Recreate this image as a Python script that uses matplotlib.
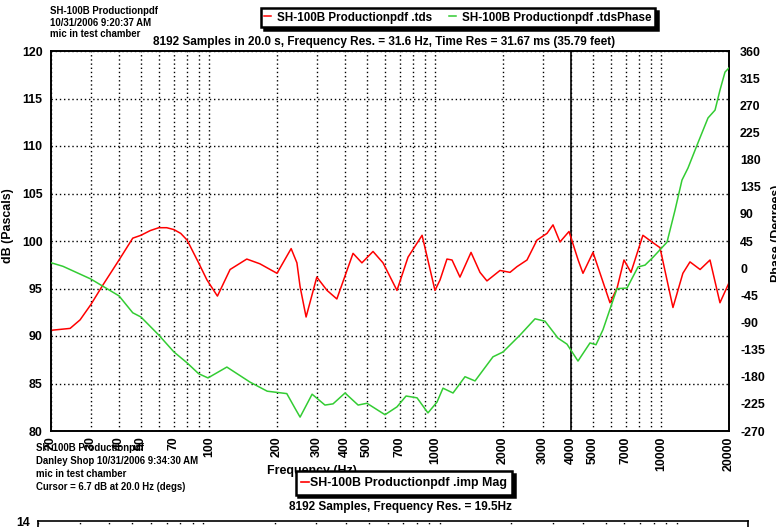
import matplotlib
matplotlib.use("Agg")
import matplotlib.pyplot as plt
from matplotlib import font_manager as fm
from matplotlib.lines import Line2D
from matplotlib.ticker import NullLocator, FixedLocator

# ---------------- data ----------------
mag_freq = [20, 24.3, 26.9, 30, 34, 40, 46, 50, 55, 60, 65, 70, 75, 80, 90, 98, 109, 124,
            147, 168, 200, 231, 245, 253, 269, 300, 333, 368, 434, 475, 532, 589, 679,
            760, 877, 1000, 1053, 1130, 1190, 1290, 1444, 1582, 1698, 1940, 2148, 2306,
            2554, 2828, 3131, 3329, 3574, 3918, 4300, 4518, 5004, 5948, 6388, 6860, 7368,
            8318, 9120, 9900, 11300, 12500, 13440, 14900, 16480, 18240, 20000]
mag_db = [90.6, 90.8, 91.7, 93.3, 95.4, 98.0, 100.3, 100.6, 101.1, 101.4, 101.4, 101.2,
          100.8, 100.1, 97.7, 95.9, 94.2, 97.0, 98.1, 97.6, 96.6, 99.2, 97.7, 95.2, 92.0,
          96.2, 94.8, 93.9, 98.7, 97.7, 98.9, 97.7, 94.8, 98.3, 100.6, 94.8, 95.9, 98.1,
          98.0, 96.2, 98.8, 96.7, 95.8, 96.9, 96.7, 97.3, 98.0, 100.1, 100.8, 101.7, 99.9,
          101.0, 98.0, 96.6, 98.8, 93.5, 95.0, 98.0, 96.7, 100.6, 99.9, 99.3, 93.0, 96.6,
          97.8, 97.0, 98.0, 93.5, 95.6]

ph_freq = [20, 22.6, 30, 40, 46, 50, 60, 70, 80, 90, 99, 120, 152, 181, 221, 240, 253,
           286, 326, 354, 400, 457, 500, 601, 679, 745, 833, 931, 1021, 1085, 1202, 1358,
           1504, 1806, 2000, 2378, 2772, 3069, 3502, 3838, 4294, 4853, 5158, 5540, 6388,
           7076, 7914, 8500, 9222, 10634, 11538, 12388, 13170, 14586, 16148, 17348,
           18240, 19200, 20000]
ph_deg = [9, 3, -18, -46, -74, -81, -111, -139, -157, -175, -182, -164, -189, -204, -208,
          -232, -247, -209, -227, -225, -207, -227, -224, -243, -230, -212, -215, -240,
          -222, -199, -207, -180, -187, -147, -139, -111, -84, -88, -116, -126, -154,
          -124, -127, -102, -34, -33, 2, 5, 18, 43, 96, 146, 166, 208, 249, 262, 295,
          325, 332]

grid_freqs = [20, 30, 40, 50, 60, 70, 80, 90, 100, 200, 300, 400, 500, 600, 700, 800,
              900, 1000, 2000, 3000, 4000, 5000, 6000, 7000, 8000, 9000, 10000, 20000]
labeled_freqs = [20, 30, 40, 50, 70, 100, 200, 300, 400, 500, 700, 1000, 2000, 3000,
                 4000, 5000, 7000, 10000, 20000]
db_ticks = [80, 85, 90, 95, 100, 105, 110, 115, 120]
phase_ticks = [-270, -225, -180, -135, -90, -45, 0, 45, 90, 135, 180, 225, 270, 315, 360]
cursor_freq = 4000

# ---------------- fonts ----------------
def has_font(name):
    try:
        fm.findfont(fm.FontProperties(family=name), fallback_to_default=False)
        return True
    except Exception:
        return False

if has_font("Liberation Sans Narrow"):
    FONT = "Liberation Sans Narrow"
    S = 1.0
else:
    FONT = "Liberation Sans"
    S = 0.85
plt.rcParams["font.family"] = [FONT, "DejaVu Sans"]
plt.rcParams["font.weight"] = "bold"

W, H = 776, 527
fig = plt.figure(figsize=(W / 100, H / 100), dpi=100)
fig.patch.set_facecolor("white")

def fx(x):
    return x / W

def fy(y):
    return 1 - y / H

# main axes
L, R, T, B = 51, 729, 51, 431
ax = fig.add_axes([fx(L), fy(B), (R - L) / W, (B - T) / H])
ax.set_xscale("log")
ax.set_xlim(20, 20000)
ax.set_ylim(80, 120)
ax.xaxis.set_major_locator(FixedLocator(grid_freqs))
ax.xaxis.set_minor_locator(NullLocator())
ax.set_xticklabels([str(f) if f in labeled_freqs else "" for f in grid_freqs],
                   rotation=90, fontsize=10.5 * S, fontweight="bold")
ax.set_yticks(db_ticks)
ax.set_yticklabels([str(v) for v in db_ticks], fontsize=10.5 * S, fontweight="bold")
ax.tick_params(axis="both", length=0)
ax.tick_params(axis="x", pad=4)
ax.tick_params(axis="y", pad=6)
ax.grid(True, color="black", linestyle=(0, (1, 2)), linewidth=1.0)
for sp in ax.spines.values():
    sp.set_linewidth(1.2)
    sp.set_color("black")
ax.axvline(cursor_freq, color="black", linewidth=1.2, zorder=3)
red_line, = ax.plot(mag_freq, mag_db, color="#ff0000", linewidth=1.1, zorder=4)
ax.set_ylabel("dB (Pascals)", fontsize=10.5 * S, fontweight="bold")
ax.yaxis.set_label_coords((14 - L) / (R - L), (B - 226) / (B - T))

ax2 = ax.twinx()
ax2.set_ylim(-270, 360)
ax2.set_yticks(phase_ticks)
ax2.set_yticklabels([str(v) for v in phase_ticks], fontsize=10.5 * S, fontweight="bold")
ax2.tick_params(axis="y", length=0, pad=8)
ax2.xaxis.set_minor_locator(NullLocator())
green_line, = ax2.plot(ph_freq, ph_deg, color="#33cc33", linewidth=1.1, zorder=4)
ax2.set_ylabel("Phase (Degrees)", fontsize=10.5 * S, fontweight="bold", rotation=90)
ax2.yaxis.set_label_coords((771 - L) / (R - L), (B - 233) / (B - T))
for sp in ax2.spines.values():
    sp.set_linewidth(1.2)

# title & legend
fig.text(fx(384), fy(42), "8192 Samples in 20.0 s, Frequency Res. = 31.6 Hz, Time Res = 31.67 ms (35.79 feet)",
         ha="center", va="center", fontsize=10 * S, fontweight="bold")
leg = fig.legend([red_line, green_line],
                 ["SH-100B Productionpdf .tds", "SH-100B Productionpdf .tdsPhase"],
                 loc="center", bbox_to_anchor=(fx(458), fy(17.5)), ncol=2,
                 prop={"size": 9.8 * S, "weight": "bold"}, frameon=True, fancybox=False,
                 edgecolor="black", handlelength=0.6, handletextpad=0.5, columnspacing=1.5,
                 borderpad=0.3, borderaxespad=0,
                 shadow={"color": "black", "alpha": 1})
leg.get_frame().set_linewidth(1.8)

# annotation blocks
fs_small = 8.2 * S
for i, t in enumerate(["SH-100B Productionpdf", "10/31/2006 9:20:37 AM", "mic in test chamber"]):
    fig.text(fx(50), fy(11 + 11.5 * i), t, ha="left", va="center", fontsize=fs_small,
             fontweight="bold")
for i, t in enumerate(["SH-100B Productionpdf", "Danley Shop 10/31/2006 9:34:30 AM",
                       "mic in test chamber", "Cursor = 6.7 dB at 20.0 Hz (degs)"]):
    fig.text(fx(36), fy(448 + 13 * i), t, ha="left", va="center", fontsize=fs_small,
             fontweight="bold")

fig.text(fx(267), fy(471), "Frequency (Hz)", ha="left", va="center", fontsize=10.5 * S,
         fontweight="bold", zorder=1)

# second (mostly clipped) chart
L2, R2, T2 = 38, 748, 521
axb = fig.add_axes([fx(L2), fy(T2) - 0.5, (R2 - L2) / W, 0.5])
axb.set_xscale("log")
axb.set_xlim(20, 20000)
axb.set_ylim(0, 14)
axb.xaxis.set_major_locator(FixedLocator(grid_freqs))
axb.xaxis.set_minor_locator(NullLocator())
axb.set_xticklabels([])
axb.set_yticks([14])
axb.set_yticklabels(["14"], fontsize=10.5 * S, fontweight="bold")
axb.tick_params(axis="y", length=0, pad=6)
axb.tick_params(axis="x", direction="in", length=3)
axb.grid(True, axis="x", color="black", linestyle=(0, (1, 2)), linewidth=1.0)
for sp in axb.spines.values():
    sp.set_linewidth(1.2)

fig.text(fx(400), fy(507), "8192 Samples, Frequency Res. = 19.5Hz", ha="center", va="center",
         fontsize=10 * S, fontweight="bold")
imp_handle = Line2D([], [], color="#ff0000", linewidth=1.2)
leg2 = fig.legend([imp_handle], ["SH-100B Productionpdf .imp Mag"], loc="center",
                  bbox_to_anchor=(fx(404), fy(483)), prop={"size": 10.5 * S, "weight": "bold"},
                  frameon=True, fancybox=False, edgecolor="black", handlelength=0.6,
                  handletextpad=0.1, borderpad=0.45, borderaxespad=0,
                  shadow={"color": "black", "alpha": 1})
leg2.get_frame().set_linewidth(1.8)
leg2.set_zorder(10)

fig.savefig("out.png", dpi=100, facecolor="white")
